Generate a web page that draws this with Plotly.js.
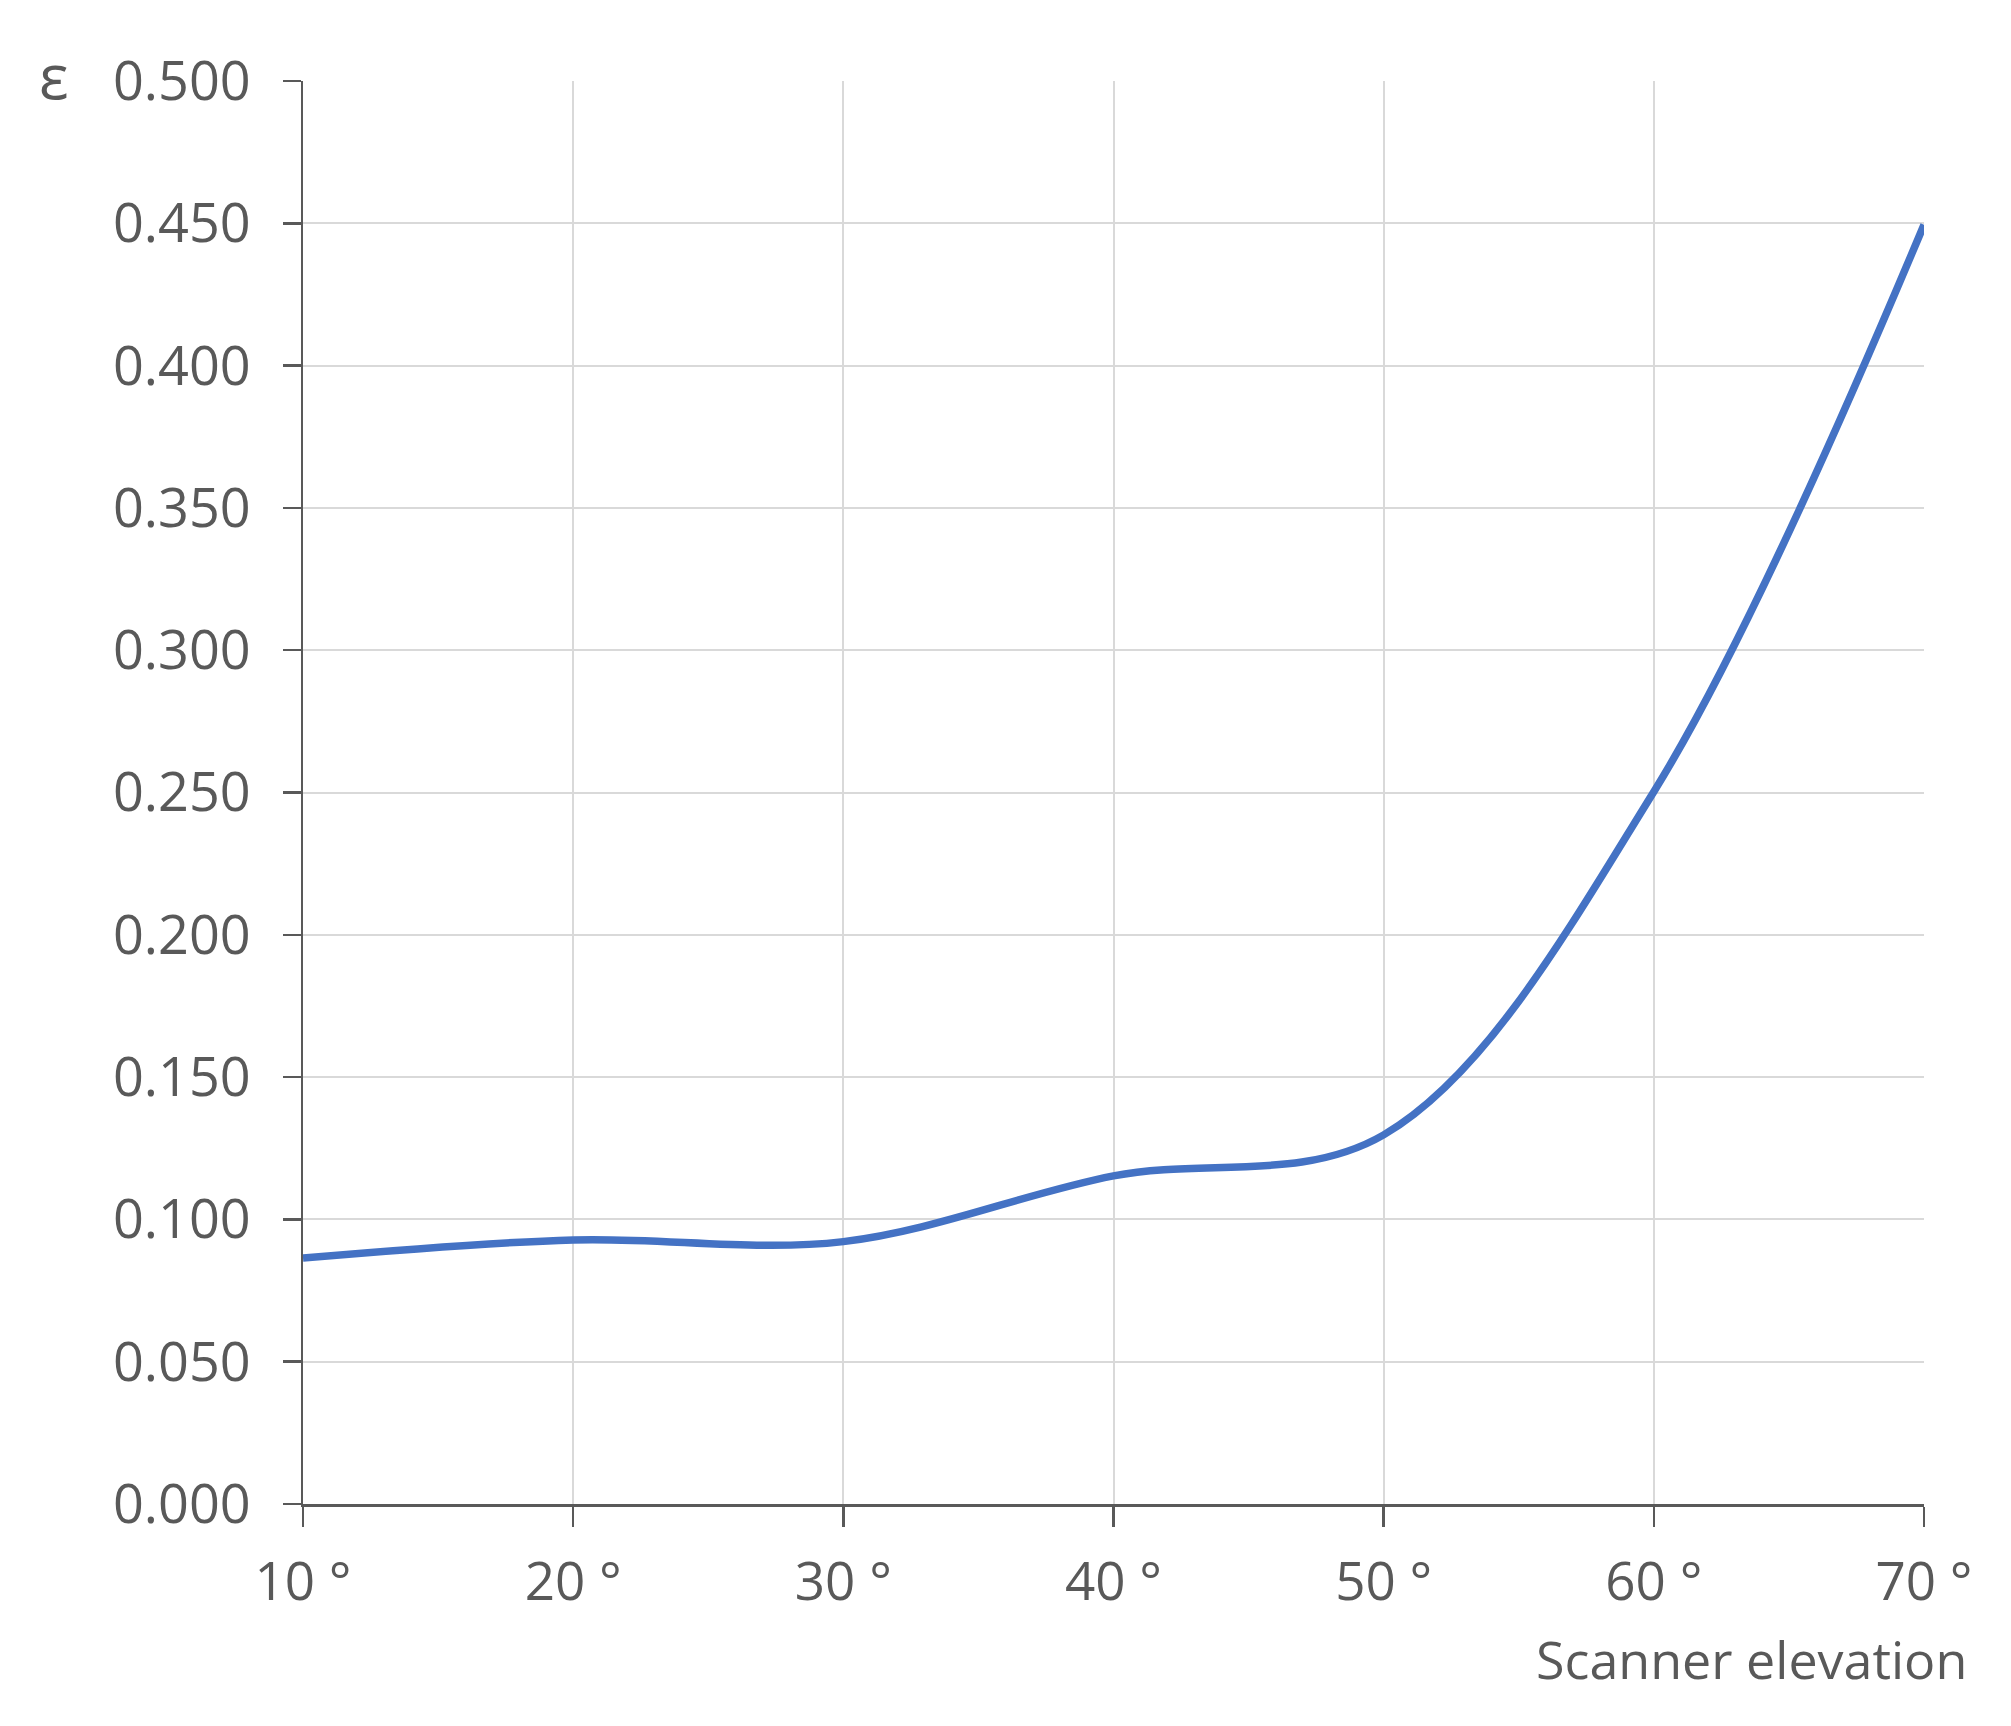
<!DOCTYPE html>
<html>
<head>
<meta charset="utf-8">
<script src="https://cdn.plot.ly/plotly-3.0.1.min.js"></script>
<style>html,body{margin:0;padding:0;background:#fff;}#chart{width:2011px;height:1726px;}</style>
</head>
<body>
<div id="chart"></div>
<script>
const elevation = [10, 20, 30, 40, 50, 60, 70];
const epsilon = [0.0864, 0.0928, 0.0922, 0.1153, 0.1297, 0.2503, 0.4495];
const xTickVals = [10, 20, 30, 40, 50, 60, 70];
const xTickText = ['10 °', '20 °', '30 °', '40 °', '50 °', '60 °', '70 °'];
const yTickVals = [0, 0.05, 0.1, 0.15, 0.2, 0.25, 0.3, 0.35, 0.4, 0.45, 0.5];
const yTickText = ['0.000', '0.050', '0.100', '0.150', '0.200', '0.250', '0.300', '0.350', '0.400', '0.450', '0.500'];

const fontFam = '"Open Sans", "Noto Sans", sans-serif';
const grey = '#595959';

const trace = {
  x: elevation, y: epsilon, type: 'scatter', mode: 'lines',
  line: {color: '#4472C4', width: 7.5, shape: 'spline', smoothing: 1},
  hoverinfo: 'skip'
};

const layout = {
  width: 2011, height: 1726,
  paper_bgcolor: '#ffffff', plot_bgcolor: '#ffffff',
  margin: {l: 302.5, r: 87, t: 81, b: 222, pad: 0},
  showlegend: false,
  font: {family: fontFam, color: grey, size: 53},
  xaxis: {
    range: [10, 70], tickmode: 'array', tickvals: xTickVals, ticktext: xTickText,
    showgrid: true, gridcolor: '#d9d9d9', gridwidth: 2,
    showline: true, linecolor: grey, linewidth: 2.5,
    ticks: 'outside', ticklen: 20, tickwidth: 2.5, tickcolor: grey,
    ticklabelstandoff: 10,
    zeroline: false, tickfont: {size: 53, color: grey, family: fontFam}
  },
  yaxis: {
    range: [0, 0.5], tickmode: 'array', tickvals: yTickVals, ticktext: yTickText,
    showgrid: true, gridcolor: '#d9d9d9', gridwidth: 2,
    showline: true, linecolor: grey, linewidth: 2.5,
    ticks: 'outside', ticklen: 18, tickwidth: 2.5, tickcolor: grey,
    ticklabelstandoff: 21,
    zeroline: false, tickfont: {size: 54, color: grey, family: fontFam}
  },
  annotations: [
    {text: 'Scanner elevation', xref: 'paper', yref: 'paper', x: 1, y: 0,
     xanchor: 'right', yanchor: 'middle', xshift: 45, yshift: -154, showarrow: false,
     font: {size: 52, color: grey, family: fontFam}},
    {text: 'ε', xref: 'paper', yref: 'paper', x: 0, y: 1,
     xanchor: 'center', yanchor: 'middle', xshift: -249, yshift: 6, showarrow: false,
     font: {size: 62, color: grey, family: fontFam}}
  ]
};

Plotly.newPlot('chart', [trace], layout, {displayModeBar: false, staticPlot: true});
</script>
</body>
</html>
